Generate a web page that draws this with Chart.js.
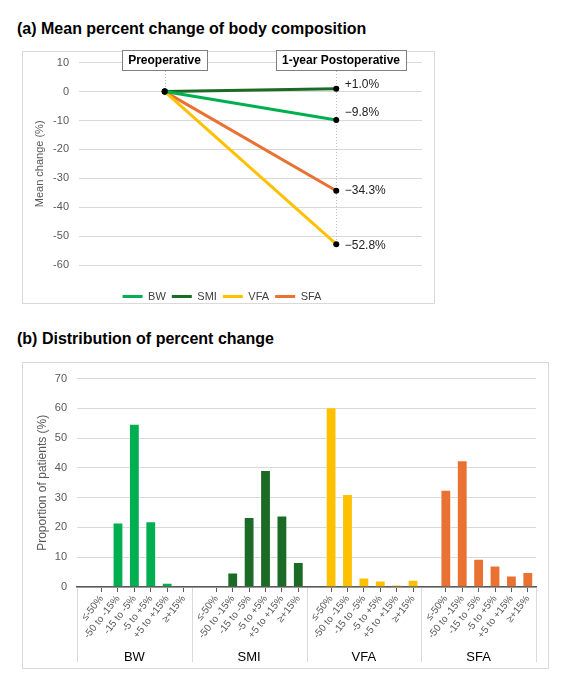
<!DOCTYPE html>
<html>
<head>
<meta charset="utf-8">
<script src="https://cdn.jsdelivr.net/npm/chart.js@4.4.1/dist/chart.umd.min.js"></script>
<style>
  body { margin: 0; background: #fff; width: 565px; height: 685px; position: relative; overflow: hidden; font-family: "Liberation Sans", Arial, sans-serif; }
  .title { position: absolute; left: 17px; font-size: 16px; line-height: 16px; font-weight: bold; color: #000; white-space: nowrap; }
  .frame { position: absolute; box-sizing: border-box; border: 1px solid #d9d9d9; }
  canvas { position: absolute; }
</style>
</head>
<body>
<div class="title" style="top:21px">(a) Mean percent change of body composition</div>
<div class="frame" style="left:22px; top:51px; width:413px; height:253px"></div>
<canvas id="meanChart" width="412" height="275" style="left:22px; top:40px"></canvas>

<div class="title" style="top:331px">(b) Distribution of percent change</div>
<div class="frame" style="left:22px; top:362px; width:527px; height:307px"></div>
<canvas id="distChart" width="526" height="306" style="left:22px; top:362px"></canvas>

<script>
// panel (a): mean % change, preop -> 1 year
const timepoints = ["Preoperative", "1-year Postoperative"];
const bwMean = [0, -9.8];
const smiMean = [0, 1.0];
const vfaMean = [0, -52.8];
const sfaMean = [0, -34.3];

// panel (b): % of patients per change bin
const groups = ["BW", "SMI", "VFA", "SFA"];
const bins = ["≤-50%", "-50 to -15%", "-15 to -5%", "-5 to +5%", "+5 to +15%", "≥+15%"];
const bwDist = [0, 21.7, 54.8, 22.1, 1.4, 0];
const smiDist = [0, 4.9, 23.5, 39.3, 24.0, 8.4];
const vfaDist = [60.4, 31.2, 3.2, 2.2, 0.8, 2.4];
const sfaDist = [32.7, 42.6, 9.5, 7.2, 3.9, 5.0];

const meanTicks = { min: -60, max: 10, step: 10 };
const distTicks = { min: 0, max: 70, step: 10 };

const colors = { BW: "#00b050", SMI: "#1b6a25", VFA: "#ffc000", SFA: "#e97132" };
const FONT = '"Liberation Sans", Arial, sans-serif';
Chart.defaults.font.family = FONT;
Chart.defaults.animation = false;

function fmtPct(v) {
  const s = v > 0 ? "+" : v < 0 ? "\u2212" : "";
  return s + Math.abs(v).toFixed(1) + "%";
}

// ---------- panel (a) ----------
const meanSeries = [
  { name: "BW", data: bwMean },
  { name: "SMI", data: smiMean },
  { name: "VFA", data: vfaMean },
  { name: "SFA", data: sfaMean }
];
const labelNudge = { BW: -7, SMI: -4, VFA: 1, SFA: 0 };
const boxShift = [0, 5];

const timepointBoxes = {
  id: "timepointBoxes",
  beforeDatasetsDraw(chart) {
    const { ctx, scales: { x, y } } = chart;
    ctx.save();
    ctx.strokeStyle = "#bfbfbf";
    ctx.lineWidth = 1;
    ctx.setLineDash([1, 2]);
    timepoints.forEach((t, i) => {
      const px = Math.round(x.getPixelForValue(i)) + 0.5;
      const low = Math.min(...meanSeries.map(s => s.data[i]));
      ctx.beginPath();
      ctx.moveTo(px, 31);
      ctx.lineTo(px, y.getPixelForValue(low));
      ctx.stroke();
    });
    ctx.restore();
  },
  afterDatasetsDraw(chart) {
    const { ctx, scales: { x, y } } = chart;
    ctx.save();
    ctx.font = "bold 12px " + FONT;
    ctx.textBaseline = "middle";
    ctx.textAlign = "center";
    timepoints.forEach((t, i) => {
      const px = x.getPixelForValue(i) + boxShift[i];
      const w = Math.round(ctx.measureText(t).width + 12);
      const left = Math.round(px - w / 2);
      ctx.fillStyle = "#fff";
      ctx.fillRect(left, 10, w, 21);
      ctx.strokeStyle = "#808080";
      ctx.lineWidth = 1;
      ctx.strokeRect(left + 0.5, 10.5, w, 20);
      ctx.fillStyle = "#000";
      ctx.fillText(t, left + w / 2, 21);
    });
    // end-point labels
    ctx.font = "12px " + FONT;
    ctx.textAlign = "left";
    ctx.fillStyle = "#222";
    const last = timepoints.length - 1;
    meanSeries.forEach(s => {
      const v = s.data[last];
      ctx.fillText(fmtPct(v), x.getPixelForValue(last) + 8.5, y.getPixelForValue(v) + labelNudge[s.name]);
    });
    ctx.restore();
  }
};

new Chart(document.getElementById("meanChart"), {
  type: "line",
  data: {
    labels: timepoints,
    datasets: meanSeries.map(s => ({
      label: s.name,
      data: s.data,
      borderColor: colors[s.name],
      backgroundColor: colors[s.name],
      borderWidth: 3,
      pointRadius: 3,
      pointBackgroundColor: "#000",
      pointBorderColor: "#000",
      pointBorderWidth: 0,
      tension: 0
    }))
  },
  options: {
    responsive: false,
    layout: { padding: { top: 22.7, right: 12, bottom: 3, left: 0 } },
    plugins: {
      tooltip: { enabled: false },
      legend: {
        position: "bottom",
        labels: {
          usePointStyle: true,
          pointStyle: "line",
          pointStyleWidth: 20,
          padding: 6,
          color: "#404040",
          font: { size: 11 },
          generateLabels: chart =>
            Chart.defaults.plugins.legend.labels.generateLabels(chart).map(l =>
              Object.assign(l, { strokeStyle: colors[l.text], fillStyle: colors[l.text], lineWidth: 3 }))
        }
      }
    },
    scales: {
      x: {
        type: "category",
        offset: true,
        ticks: { display: false },
        grid: { display: false },
        border: { display: false },
        afterFit: s => { s.height = 20; }
      },
      y: {
        min: meanTicks.min,
        max: meanTicks.max,
        ticks: { stepSize: meanTicks.step, color: "#595959", font: { size: 11 }, padding: 10 },
        grid: { color: "#d9d9d9", drawTicks: false },
        border: { display: false },
        title: { display: true, text: "Mean change (%)", color: "#595959", font: { size: 11 }, padding: { top: 11, bottom: 0 } },
        afterFit: s => { s.width = 57; }
      }
    }
  },
  plugins: [timepointBoxes]
});

// ---------- panel (b) ----------
const distSeries = [
  { name: "BW", data: bwDist },
  { name: "SMI", data: smiDist },
  { name: "VFA", data: vfaDist },
  { name: "SFA", data: sfaDist }
];
const perGroup = bins.length + 1; // one empty slot leads each group
const xLabels = [];
groups.forEach(() => { xLabels.push(""); bins.forEach(b => xLabels.push(b)); });

const distDatasets = distSeries.map((s, g) => {
  const data = new Array(xLabels.length).fill(null);
  s.data.forEach((v, k) => { data[g * perGroup + 1 + k] = v; });
  return {
    label: s.name,
    data,
    backgroundColor: colors[s.name],
    borderColor: "rgba(255,255,255,0.35)",
    borderWidth: 1,
    barPercentage: 0.66,
    categoryPercentage: 1
  };
});

const groupLabels = {
  id: "groupLabels",
  afterDraw(chart) {
    const { ctx, chartArea, scales: { x } } = chart;
    const catW = (chartArea.right - chartArea.left) / xLabels.length;
    const edges = groups.map((g, i) => x.getPixelForValue(i * perGroup) - catW / 2);
    edges.push(chartArea.right);
    ctx.save();
    ctx.strokeStyle = "#d9d9d9";
    ctx.lineWidth = 1;
    edges.forEach(e => {
      const px = Math.round(e) + 0.5;
      ctx.beginPath();
      ctx.moveTo(px, chartArea.bottom + 1);
      ctx.lineTo(px, chart.height - 6);
      ctx.stroke();
    });
    ctx.fillStyle = "#000";
    ctx.font = "13px " + FONT;
    ctx.textAlign = "center";
    ctx.textBaseline = "middle";
    groups.forEach((g, i) => {
      ctx.fillText(g, (edges[i] + edges[i + 1]) / 2, chart.height - 11);
    });
    ctx.restore();
  }
};

new Chart(document.getElementById("distChart"), {
  type: "bar",
  data: { labels: xLabels, datasets: distDatasets },
  options: {
    responsive: false,
    layout: { padding: { top: 13, right: 12, bottom: 0, left: 0 } },
    plugins: { legend: { display: false }, tooltip: { enabled: false } },
    scales: {
      x: {
        stacked: true,
        ticks: {
          autoSkip: false,
          minRotation: 52,
          maxRotation: 52,
          color: "#595959",
          font: { size: 10 },
          padding: 1
        },
        grid: {
          offset: false,
          drawOnChartArea: false,
          tickLength: 5,
          tickColor: c => (xLabels[c.index] ? "#595959" : "rgba(0,0,0,0)")
        },
        border: { display: true, color: "#595959", width: 1.5 },
        afterFit: s => { s.height = 81; }
      },
      y: {
        stacked: true,
        min: distTicks.min,
        max: distTicks.max,
        ticks: { stepSize: distTicks.step, color: "#595959", font: { size: 11 }, padding: 10 },
        grid: { color: "#d9d9d9", drawTicks: false },
        border: { display: false },
        title: { display: true, text: "Proportion of patients (%)", color: "#595959", font: { size: 12 }, padding: { top: 13, bottom: 0 } },
        afterFit: s => { s.width = 55; }
      }
    }
  },
  plugins: [groupLabels]
});
</script>
</body>
</html>
